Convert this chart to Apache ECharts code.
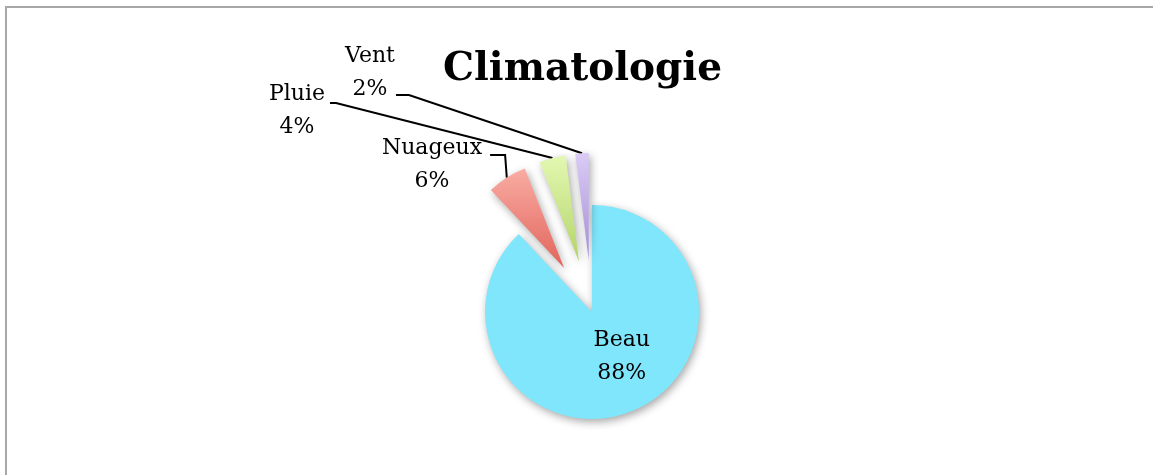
<!DOCTYPE html>
<html>
<head>
<meta charset="utf-8">
<title>Climatologie</title>
<script src="https://cdn.jsdelivr.net/npm/echarts@6/dist/echarts.min.js"></script>
<style>
  html, body { margin: 0; padding: 0; background: #fff; }
  #wrap { position: relative; width: 1153px; height: 475px; overflow: hidden; }
  #frame {
    position: absolute; left: 5px; top: 6px; width: 1200px; height: 520px;
    border-top: 2px solid #a8a8a8; border-left: 2px solid #a8a8a8;
  }
  #chart { position: absolute; left: 0; top: 0; width: 1153px; height: 475px; }
</style>
</head>
<body>
<div id="wrap">
  <div id="frame"></div>
  <div id="chart"></div>
</div>
<script>
// weather categories and their shares (%)
const categories = ["Beau", "Nuageux", "Pluie", "Vent"];
const shares = [88, 6, 4, 2];
const exploded = [false, true, true, true];

// top / bottom colours of each slice
const topColors = ["#80e6fc", "#f9aca3", "#e3f8b2", "#dacbf5"];
const bottomColors = ["#80e6fc", "#e1645b", "#b2d468", "#a48ed6"];

const pieCenter = [592, 312];
const pieRadius = 107;
const explodeOffset = 52;

// where the outside labels sit, and how their leader line ends
const labelSpots = {
  1: { x: 432, y: 165, lineDy: -10, gap: 8, knee: 15 },
  2: { x: 297, y: 111, lineDy: -8, gap: 5, knee: 6 },
  3: { x: 370, y: 73, lineDy: 22, gap: 1, knee: 13 }
};

const chart = echarts.init(document.getElementById("chart"));

const total = shares.reduce((a, b) => a + b, 0);

// one pie per slice, all sharing the same angles; only its own slice is painted
const series = categories.map((cat, k) => {
  const before = shares.slice(0, k).reduce((a, b) => a + b, 0);
  const mid = ((before + shares[k] / 2) / total) * 2 * Math.PI;
  const off = exploded[k] ? explodeOffset : 0;
  return {
    type: "pie",
    name: cat,
    center: [pieCenter[0] + off * Math.sin(mid), pieCenter[1] - off * Math.cos(mid)],
    radius: pieRadius,
    startAngle: 90,
    clockwise: true,
    avoidLabelOverlap: false,
    silent: true,
    emphasis: { disabled: true },
    label: {
      show: true,
      formatter: (p) => `${p.name}\n${p.value}%`,
      fontFamily: "DejaVu Serif",
      fontSize: 22,
      lineHeight: 33,
      color: "#000",
      align: "center"
    },
    labelLine: {
      show: true,
      length: 20,
      length2: 10,
      lineStyle: { color: "#000", width: 2 }
    },
    labelLayout: (p) => {
      if (p.dataIndex !== k) return {};
      const spot = labelSpots[k];
      if (!spot) {
        return {
          x: p.labelRect.x + p.labelRect.width / 2 + 9,
          y: p.labelRect.y + p.labelRect.height / 2 - 8,
          align: "center",
          verticalAlign: "middle"
        };
      }
      const right = spot.x + p.labelRect.width / 2;
      const lineY = spot.y + spot.lineDy;
      const start = p.labelLinePoints ? p.labelLinePoints[0] : [right, lineY];
      return {
        x: spot.x,
        y: spot.y,
        align: "center",
        verticalAlign: "middle",
        labelLinePoints: [
          start,
          [right + spot.gap + spot.knee, lineY],
          [right + spot.gap, lineY]
        ]
      };
    },
    data: categories.map((name, i) => {
      const mine = i === k;
      return {
        name: name,
        value: shares[i],
        itemStyle: mine
          ? {
              color: new echarts.graphic.LinearGradient(0, 0, 0, 1, [
                { offset: 0, color: topColors[i] },
                { offset: 1, color: bottomColors[i] }
              ]),
              shadowBlur: 8,
              shadowColor: "rgba(0,0,0,0.35)",
              shadowOffsetX: 2,
              shadowOffsetY: 3
            }
          : { color: "rgba(0,0,0,0)" },
        label: mine
          ? { show: true, position: exploded[i] ? "outside" : "inside" }
          : { show: false },
        labelLine: { show: mine && exploded[i] }
      };
    })
  };
});

chart.setOption({
  animation: false,
  title: {
    text: "Climatologie",
    left: 438,
    top: 45,
    textStyle: {
      fontFamily: "DejaVu Serif",
      fontWeight: "bold",
      fontSize: 39,
      color: "#000"
    }
  },
  series: series
});
</script>
</body>
</html>
